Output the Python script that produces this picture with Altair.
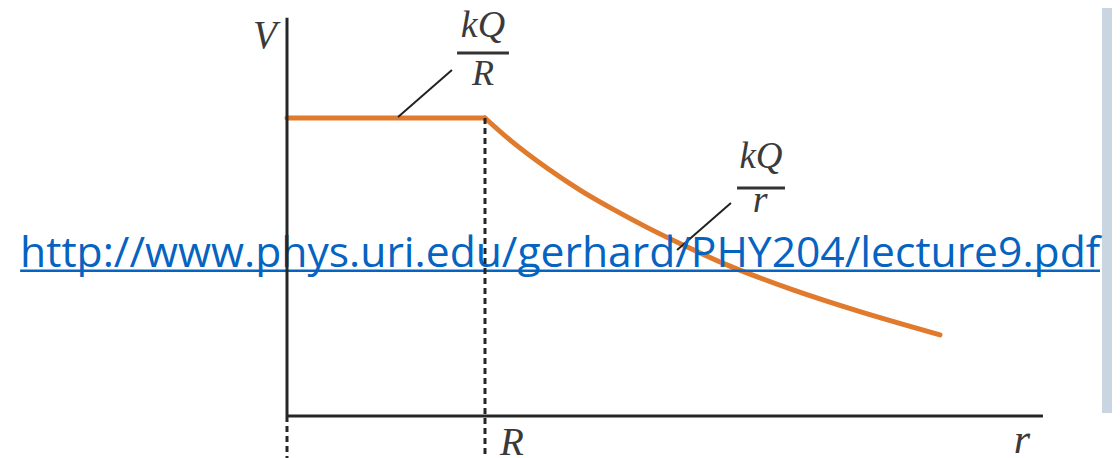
import altair as alt
import pandas as pd

# ---- data (units: r in multiples of R, V in multiples of kQ/R) ----
r_flat = [0.0, 1.0]
v_flat = [1.0, 1.0]

r_curve = [1.0, 1.141, 1.313, 1.480, 1.646, 1.818, 2.0, 2.222, 2.556, 2.894, 3.298]
v_curve = [1.0, 0.918, 0.832, 0.758, 0.694, 0.633, 0.574, 0.507, 0.423, 0.350, 0.272]

axis_r_end = 3.818
axis_v_end = 1.336
R_pos = 1.0

url_text = "http://www.phys.uri.edu/gerhard/PHY204/lecture9.pdf"

X_DOM = [-1.4091, 4.1667]
Y_DOM = [-0.1141, 1.3691]
xs = alt.Scale(domain=X_DOM, nice=False, zero=False)
ys = alt.Scale(domain=Y_DOM, nice=False, zero=False)

def X(f="x"):
    return alt.X(f"{f}:Q", scale=xs, axis=None)

def Y(f="y"):
    return alt.Y(f"{f}:Q", scale=ys, axis=None)

# gray side panel
panel = alt.Chart(pd.DataFrame({"x": [4.116], "x2": [4.1667], "y": [0.01], "y2": [1.40]})).mark_rect(
    color="#c9d5e1").encode(x=X(), x2="x2:Q", y=Y(), y2="y2:Q")

# axes
axes_df = pd.DataFrame({"x": [0.0, 0.0], "x2": [0.0, axis_r_end], "y": [0.0, 0.0], "y2": [axis_v_end, 0.0]})
axes = alt.Chart(axes_df).mark_rule(color="#262626", strokeWidth=3).encode(
    x=X(), x2="x2:Q", y=Y(), y2="y2:Q")

# dashed verticals
dash_df = pd.DataFrame({"x": [0.0, R_pos], "y": [0.0, 1.0], "y2": [-0.16, -0.16]})
dashes = alt.Chart(dash_df).mark_rule(color="#262626", strokeWidth=3, strokeDash=[6, 4]).encode(
    x=X(), y=Y(), y2="y2:Q")

# potential: flat part and 1/r part as separate segments
pot_df = pd.DataFrame({
    "x": r_flat + r_curve,
    "y": v_flat + v_curve,
    "seg": ["in"] * len(r_flat) + ["out"] * len(r_curve),
    "o": list(range(len(r_flat) + len(r_curve))),
})
pot = alt.Chart(pot_df).mark_line(color="#e07a2c", strokeWidth=5, interpolate="catmull-rom",
                                  strokeCap="round").encode(
    x=X(), y=Y(), detail="seg:N", order="o:Q")

# leader lines
lead_df = pd.DataFrame({"x": [0.561, 1.970], "x2": [0.833, 2.242], "y": [1.003, 0.557], "y2": [1.161, 0.715]})
leads = alt.Chart(lead_df).mark_rule(color="#222222", strokeWidth=2).encode(
    x=X(), x2="x2:Q", y=Y(), y2="y2:Q")

# fraction bars
bar_df = pd.DataFrame({"x": [0.859, 2.273], "x2": [1.121, 2.515], "y": [1.218, 0.765]})
bars = alt.Chart(bar_df).mark_rule(color="#333333", strokeWidth=3).encode(
    x=X(), x2="x2:Q", y=Y())

# math labels
lab_df = pd.DataFrame({
    "t": ["kQ", "R", "kQ", "r", "V", "R", "r"],
    "x": [0.990, 0.990, 2.394, 2.389, -0.111, 1.136, 3.712],
    "y": [1.272, 1.111, 0.832, 0.685, 1.235, -0.131, -0.124],
    "s": [38, 36, 37, 38, 39, 39, 42],
})
labels = alt.Chart(lab_df).mark_text(
    font="Liberation Serif", fontStyle="italic", color="#3a3a3a", baseline="alphabetic", align="center"
).encode(x=X(), y=Y(), text="t:N", size=alt.Size("s:Q", scale=None, legend=None))

# URL text and underline
url = alt.Chart(pd.DataFrame({"x": [-1.348], "y": [0.5], "t": [url_text]})).mark_text(
    font="Open Sans", fontSize=42.6, color="#0563c1", align="left", baseline="alphabetic"
).encode(x=X(), y=Y(), text="t:N")
uline = alt.Chart(pd.DataFrame({"x": [-1.348], "x2": [4.106], "y": [0.487]})).mark_rule(
    color="#0563c1", strokeWidth=2.5).encode(x=X(), x2="x2:Q", y=Y())

chart = alt.layer(panel, pot, leads, bars, labels, url, uline, axes, dashes).properties(
    width=1104, height=442,
    padding={"left": 0, "top": 0, "right": 0, "bottom": 8},
    autosize=alt.AutoSizeParams(type="none"),
    background="white",
).configure_view(stroke=None, clip=False)

chart.save("out.html", embed_options={"renderer": "svg", "actions": False})
